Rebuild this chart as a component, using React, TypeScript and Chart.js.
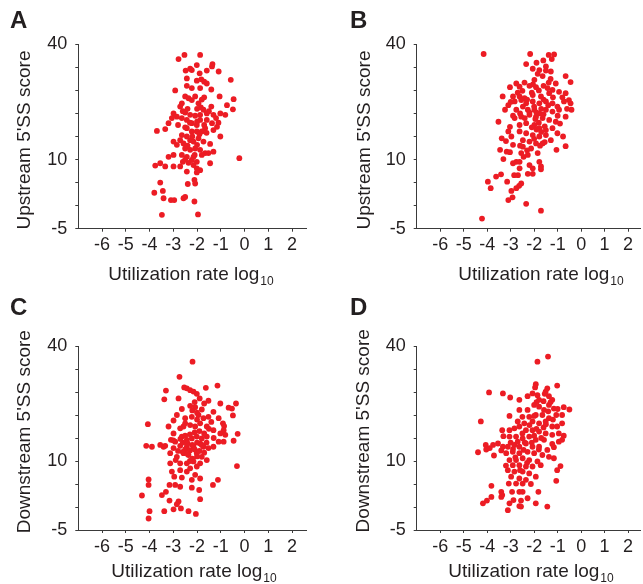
import React, { useEffect, useRef } from 'react';
import { Chart, registerables } from 'chart.js';

Chart.register(...registerables);

// ---------- data ----------
const xTickValues = [-6, -5, -4, -3, -2, -1, 0, 1, 2];
const yTickValues = [-5, 0, 5, 10, 15, 20, 25, 30, 35];
const yTickLabels = ['-5', '', '', '10', '', '', '', '', '40'];
const xTitleMain = 'Utilization rate log';
const xTitleSub = '10';
const panelLetters = ['A', 'B', 'C', 'D'];
const yTitles = ["Upstream 5'SS score", "Upstream 5'SS score", "Downstream 5'SS score", "Downstream 5'SS score"];

const pointsA: [number, number][] = [
  [-2.53,32.7],[-1.87,32.7],[-2.78,31.8],[-2.01,30.5],[-1.35,30.7],[-1.37,30.2],[-2.48,29.3],[-2.29,29.7],[-2.22,29.4],[-1.59,29.3],
  [-1.09,29.1],[-1.89,28.7],[-1.82,27.4],[-1.7,26.9],[-2.43,27.6],[-2.01,27.1],[-0.58,27.3],[-1.59,26.5],[-1.4,25.2],[-1.87,25.5],
  [-2.92,25.0],[-2.43,26.0],[-2.22,25.5],[-1.05,23.7],[-0.46,23.1],[-1.7,23.5],[-2.5,23.7],[-2.36,23.3],[-2.08,23.7],[-2.22,22.9],
  [-2.64,22.2],[-1.94,22.2],[-0.74,21.8],[-1.84,21.3],[-1.73,20.8],[-0.49,20.9],[-2.71,21.5],[-2.99,20.0],[-2.5,20.2],[-2.29,19.7],
  [-2.08,19.5],[-1.87,19.7],[-1.59,20.0],[-1.31,19.7],[-1.02,20.0],[-0.81,19.7],[-2.85,19.3],[-3.06,19.0],[-3.2,17.9],[-3.34,16.6],
  [-3.69,16.2],[-2.64,19.0],[-2.43,18.6],[-2.22,17.9],[-2.01,17.5],[-1.87,18.6],[-1.59,18.6],[-1.37,17.9],[-1.16,17.1],[-1.66,16.8],
  [-1.31,16.4],[-1.02,15.0],[-2.43,16.8],[-2.22,16.1],[-2.01,16.1],[-1.8,16.1],[-2.64,15.3],[-2.43,15.0],[-2.29,14.2],[-2.71,14.2],
  [-2.99,13.9],[-2.85,13.2],[-2.57,13.5],[-2.15,13.9],[-1.94,14.6],[-1.73,13.9],[-1.45,13.4],[-2.5,12.4],[-2.29,12.1],[-2.08,12.4],
  [-1.87,12.1],[-1.66,11.4],[-1.52,11.4],[-1.31,11.7],[-3.2,10.6],[-2.99,11.0],[-2.64,11.0],[-2.43,10.6],[-2.15,10.6],[-1.8,11.0],
  [-1.45,9.2],[-2.6,9.5],[-2.36,9.3],[-2.22,9.9],[-2.01,9.5],[-1.87,7.7],[-2.01,8.1],[-2.15,8.8],[-2.99,8.5],[-2.71,8.5],
  [-3.34,8.5],[-3.55,9.2],[-3.76,8.7],[-0.22,10.3],[-2.43,7.4],[-2.01,7.2],[-2.11,5.6],[-2.08,4.8],[-2.39,4.7],[-3.55,5.0],
  [-3.8,2.8],[-3.44,3.2],[-3.41,1.6],[-3.1,1.2],[-2.96,1.2],[-2.57,1.6],[-2.5,1.9],[-2.11,0.9],[-3.48,-2.0],[-1.96,-1.9],
  [-2.3,18.0],[-2.0,18.2],[-1.7,17.5],[-2.5,17.0],[-1.9,15.5],[-2.2,15.0],[-1.6,15.8],[-2.4,13.0],[-2.0,13.2],[-1.5,20.5],
  [-1.2,19.0],[-1.8,23.0],[-2.4,21.0],[-2.6,20.5],[-2.0,21.0],[-1.4,21.5],[-1.1,18.0],[-2.8,17.5],[-2.1,11.0],[-2.5,10.0],
];

const pointsB: [number, number][] = [
  [-4.15,32.9],[-2.17,32.9],[-1.38,32.7],[-1.15,32.8],[-1.61,31.5],[-2.34,30.7],[-1.5,30.2],[-2.06,29.7],[-1.78,29.4],[-1.85,28.6],
  [-1.29,29.1],[-1.64,28.1],[-1.99,27.3],[-2.41,26.7],[-2.76,26.5],[-0.66,28.1],[-0.45,26.8],[-1.38,26.7],[-1.08,26.5],[-2.62,25.8],
  [-3.03,25.7],[-2.2,26.0],[-1.92,25.7],[-1.43,25.5],[-1.22,25.1],[-0.94,24.7],[-0.66,24.4],[-3.34,23.7],[-2.9,23.7],[-2.62,23.7],
  [-2.41,23.3],[-2.06,24.0],[-1.71,23.7],[-1.36,24.4],[-0.52,22.9],[-0.45,22.2],[-0.73,22.6],[-2.55,22.9],[-2.34,22.2],[-2.06,22.6],
  [-1.78,22.2],[-1.5,22.6],[-1.22,22.2],[-1.01,21.5],[-2.83,22.6],[-3.1,21.8],[-3.24,20.8],[-2.76,20.8],[-2.48,21.5],[-2.27,20.8],
  [-1.99,20.8],[-1.78,20.0],[-1.5,20.8],[-1.22,20.4],[-0.94,20.8],[-0.41,20.8],[-0.66,19.3],[-3.52,18.2],[-2.83,19.0],[-2.55,19.3],
  [-2.2,19.7],[-1.92,19.3],[-1.64,19.0],[-1.36,18.6],[-1.08,18.2],[-3.03,17.1],[-2.62,17.5],[-2.34,17.9],[-1.99,17.5],[-1.78,16.8],
  [-1.5,16.4],[-1.22,16.8],[-1.01,15.7],[-0.77,15.0],[-0.66,12.9],[-1.05,12.1],[-3.1,16.1],[-2.62,16.1],[-2.34,15.7],[-2.06,15.3],
  [-1.78,15.0],[-1.5,15.3],[-1.29,14.2],[-3.38,14.6],[-2.97,15.0],[-2.48,14.2],[-2.2,13.9],[-1.92,13.5],[-1.64,13.5],[-2.9,13.2],
  [-2.48,12.8],[-2.13,12.4],[-1.85,11.4],[-3.45,12.1],[-3.17,11.7],[-3.03,11.6],[-3.31,10.1],[-2.55,11.4],[-2.45,10.6],[-2.27,11.0],
  [-2.76,9.5],[-2.9,9.2],[-2.62,9.5],[-2.2,8.8],[-1.78,9.5],[-1.71,8.5],[-2.06,8.1],[-1.71,7.9],[-2.62,8.1],[-2.85,6.6],
  [-2.69,6.6],[-2.27,6.9],[-2.06,6.9],[-3.62,6.3],[-3.41,6.8],[-3.97,5.2],[-3.85,3.8],[-3.15,5.2],[-2.55,4.8],[-2.64,4.3],
  [-2.76,3.8],[-2.97,3.2],[-2.92,1.8],[-3.1,1.2],[-2.34,0.4],[-1.71,-1.1],[-4.22,-2.8],
  [-2.0,21.5],[-1.9,20.2],[-1.7,21.0],[-1.6,19.8],[-1.95,18.8],[-1.8,18.0],[-2.1,17.0],[-1.7,16.0],[-1.9,16.5],[-2.2,20.2],
  [-2.3,23.0],[-1.6,23.0],[-2.1,24.5],[-1.8,25.0],[-1.55,17.2],[-2.0,14.5],[-1.75,13.0],[-2.4,19.0],[-1.4,21.8],[-1.2,23.5],
  [-0.8,23.5],[-0.6,21.0],[-1.0,19.5],[-0.9,17.8],[-2.6,20.0],[-2.9,19.5],[-3.0,22.5],[-2.7,24.5],[-2.5,24.9],[-1.3,27.5],
  [-1.6,26.0],[-2.05,26.3],[-1.5,29.3],[-1.9,31.0],[-1.25,31.8],[-1.55,13.8],[-2.3,12.0],[-2.6,13.0],[-3.2,14.0],
];

const pointsC: [number, number][] = [
  [-2.19,31.6],[-2.74,28.3],[-3.31,25.3],[-3.38,23.4],[-2.54,26.0],[-2.43,25.8],[-2.29,25.4],[-2.15,25.1],[-2.01,24.6],[-1.89,23.6],
  [-1.63,25.9],[-1.14,26.4],[-1.52,23.1],[-1.02,22.5],[-0.36,22.5],[-0.67,21.6],[-0.53,21.4],[-0.49,19.9],[-2.29,22.0],[-2.08,21.7],
  [-2.78,23.6],[-2.64,21.3],[-2.85,20.0],[-2.99,18.8],[-3.2,17.5],[-2.5,19.3],[-2.22,19.6],[-1.94,20.0],[-1.73,19.3],[-1.52,19.6],
  [-1.31,20.7],[-1.09,19.3],[-0.91,18.2],[-0.86,17.6],[-0.88,16.7],[-1.02,16.0],[-0.81,15.7],[-0.88,14.2],[-0.46,14.4],[-0.29,15.9],
  [-1.31,16.7],[-1.59,17.5],[-1.87,18.2],[-2.08,17.5],[-2.29,17.8],[-2.57,17.5],[-2.71,17.1],[-2.99,16.0],[-3.1,14.6],[-2.92,14.2],
  [-2.64,15.3],[-2.43,14.6],[-2.22,14.9],[-2.01,15.3],[-1.8,14.9],[-1.59,15.3],[-1.87,13.8],[-1.73,13.1],[-1.52,12.8],[-1.31,13.1],
  [-1.09,14.2],[-2.15,13.1],[-2.43,13.1],[-2.71,13.3],[-2.99,12.8],[-3.13,11.7],[-2.85,10.9],[-2.57,11.7],[-2.36,11.3],[-2.01,11.7],
  [-1.8,10.9],[-1.59,10.2],[-1.87,9.5],[-2.15,9.9],[-2.43,9.5],[-2.71,9.5],[-3.13,9.5],[-3.06,7.7],[-2.71,8.0],[-2.43,7.7],
  [-2.01,8.8],[-2.29,8.4],[-3.34,13.3],[-3.41,13.1],[-3.55,13.5],[-4.07,18.0],[-4.14,13.3],[-3.9,13.1],[-4.04,6.0],[-4.04,4.8],
  [-0.32,8.9],[-2.08,7.0],[-2.22,5.9],[-1.87,6.2],[-1.91,3.7],[-2.22,4.2],[-2.64,6.4],[-2.96,6.6],[-3.16,4.8],[-2.92,4.8],
  [-2.71,4.4],[-3.31,3.3],[-3.48,2.6],[-4.32,2.5],[-1.87,1.7],[-3.16,1.4],[-2.78,1.2],[-2.85,0.6],[-2.68,-0.3],[-2.99,-0.5],
  [-2.36,-0.9],[-2.05,-1.5],[-4.0,-0.9],[-4.04,-2.5],[-3.38,-0.9],[-1.12,5.9],[-1.33,4.8],
  [-2.6,14.0],[-2.4,13.8],[-2.2,13.5],[-2.0,14.0],[-1.8,13.5],[-2.5,12.5],[-2.3,12.3],[-2.1,12.5],[-1.9,12.2],[-2.7,14.8],
  [-2.5,15.5],[-2.3,15.8],[-2.1,16.2],[-1.9,16.5],[-1.7,16.0],[-2.6,12.0],[-2.0,11.0],[-2.2,10.5],[-1.7,11.8],[-1.6,14.0],
  [-2.8,12.2],[-2.4,11.5],[-1.5,17.0],[-1.4,18.5],[-2.0,19.0],[-2.2,21.0],[-2.1,22.8],[-1.8,21.2],[-2.5,18.2],[-2.0,20.5],
  [-1.7,22.5],[-1.3,15.0],[-3.0,14.5],[-2.9,10.2],[-2.3,10.0],
];

const pointsD: [number, number][] = [
  [-1.86,31.6],[-1.41,32.7],[-1.93,26.7],[-1.96,26.0],[-1.02,26.4],[-1.44,25.8],[-3.92,24.9],[-3.33,24.7],[-3.02,23.8],[-2.63,23.3],
  [-2.28,24.1],[-2.07,24.7],[-1.86,24.3],[-1.51,25.1],[-1.37,24.1],[-1.23,23.3],[-1.79,23.3],[-1.37,22.2],[-1.16,21.4],[-0.74,21.7],
  [-0.5,21.2],[-2.63,21.1],[-2.28,21.1],[-2.0,22.2],[-1.79,21.8],[-1.58,21.1],[-2.21,19.6],[-1.93,20.0],[-1.65,20.0],[-1.37,19.3],
  [-1.06,20.0],[-0.81,20.0],[-3.05,19.8],[-4.27,18.6],[-2.7,18.6],[-2.42,18.2],[-2.07,18.6],[-1.79,18.2],[-1.51,18.6],[-1.23,17.5],
  [-1.02,17.5],[-0.81,18.2],[-3.36,16.7],[-3.05,16.7],[-2.84,17.1],[-2.63,17.5],[-2.35,16.7],[-2.07,16.7],[-1.79,16.4],[-1.51,16.0],
  [-1.23,15.7],[-0.95,16.0],[-0.74,15.5],[-0.81,14.6],[-3.31,15.4],[-3.05,15.3],[-2.77,15.3],[-2.49,14.9],[-2.21,15.3],[-1.93,14.6],
  [-1.58,14.6],[-1.23,13.7],[-0.95,14.2],[-3.54,13.8],[-3.75,13.5],[-4.06,13.5],[-4.04,12.5],[-4.39,11.9],[-3.89,12.8],[-3.33,13.1],
  [-3.12,13.1],[-2.84,13.5],[-2.63,13.1],[-2.35,13.8],[-2.07,13.1],[-1.79,13.1],[-1.44,12.4],[-1.16,13.0],[-3.71,11.2],[-3.19,11.7],
  [-2.91,12.0],[-2.63,11.7],[-2.28,12.0],[-2.0,11.7],[-1.65,11.3],[-1.37,10.9],[-1.16,10.6],[-3.05,10.2],[-2.77,10.2],[-2.49,10.6],
  [-2.21,10.2],[-1.86,9.9],[-2.91,9.1],[-2.63,9.1],[-2.35,8.8],[-2.07,8.8],[-1.72,9.1],[-0.88,8.9],[-1.02,8.0],[-3.12,8.0],
  [-2.84,7.7],[-2.49,7.7],[-2.21,7.3],[-1.93,6.6],[-2.98,6.6],[-2.63,6.2],[-2.35,5.9],[-1.06,5.7],[-3.08,5.1],[-2.77,5.1],
  [-2.49,5.1],[-2.14,5.0],[-3.82,4.6],[-3.4,3.3],[-3.36,2.6],[-2.94,3.3],[-2.63,3.3],[-2.49,3.3],[-1.82,3.3],[-2.28,1.9],
  [-2.56,1.4],[-2.88,1.5],[-3.05,0.8],[-2.63,0.2],[-2.56,0.1],[-1.93,0.8],[-1.44,0.1],[-3.12,-0.7],[-4.18,0.8],[-4.01,1.4],
  [-3.82,2.2],[-3.4,2.2],
  [-2.5,16.0],[-2.2,17.8],[-1.9,17.0],[-1.6,17.3],[-1.4,20.8],[-1.3,22.8],[-1.6,23.0],[-1.55,24.6],[-2.4,14.0],[-2.7,14.2],
  [-3.0,14.0],[-2.9,12.6],[-2.45,12.4],[-2.1,14.0],[-1.8,12.5],[-2.3,9.6],[-2.6,8.0],[-3.2,9.0],[-2.0,15.5],[-1.7,15.0],
  [-1.2,19.0],[-1.0,21.3],[-2.5,19.6],[-2.8,10.8],[-3.4,12.3],[-1.5,18.0],[-2.0,19.8],[-1.9,22.8],
];

const panelPoints = [pointsA, pointsB, pointsC, pointsD];

// ---------- styling / layout ----------
const FONT = '"Liberation Sans", Arial, Helvetica, sans-serif';
const RED = '#ec1c24';
const AXIS = '#3a3a3a';
const TEXT = '#231f20';

type Geo = {
  left: number; top: number; w: number; h: number;
  padLeft: number; padRight: number; padTop: number; yW: number; xH: number; xMax: number;
  letterX: number; letterY: number; yTitleX: number; yTitleY: number; xTitleCX: number; xTitleBase: number;
};

const geos: Geo[] = [
  { left: 0, top: 0, w: 320, h: 290, padLeft: 0, padRight: 13.7, padTop: 44.3, yW: 78.3, xH: 61.3, xMax: 2.6,
    letterX: 10, letterY: 28, yTitleX: 25, yTitleY: 140, xTitleCX: 191, xTitleBase: 280 },
  { left: 320, top: 0, w: 323, h: 290, padLeft: 18.4, padRight: 0, padTop: 44.3, yW: 78.3, xH: 61.3, xMax: 2.51,
    letterX: 30, letterY: 28, yTitleX: 44.5, yTitleY: 140, xTitleCX: 221, xTitleBase: 280 },
  { left: 0, top: 290, w: 320, h: 294, padLeft: 0, padRight: 13.7, padTop: 56, yW: 78.3, xH: 54, xMax: 2.6,
    letterX: 10, letterY: 25, yTitleX: 24.5, yTitleY: 141.7, xTitleCX: 194, xTitleBase: 286.5 },
  { left: 320, top: 290, w: 323, h: 294, padLeft: 18.4, padRight: 0, padTop: 56, yW: 78.3, xH: 54, xMax: 2.51,
    letterX: 30, letterY: 25, yTitleX: 44.2, yTitleY: 140.8, xTitleCX: 211, xTitleBase: 286.5 },
];

function makeTextPlugin(g: Geo, letter: string, yTitle: string) {
  return {
    id: 'panelText',
    afterDraw(chart: any) {
      const ctx: CanvasRenderingContext2D = chart.ctx;
      ctx.save();
      ctx.fillStyle = TEXT;
      ctx.font = `bold 24px ${FONT}`;
      ctx.textAlign = 'left';
      ctx.textBaseline = 'alphabetic';
      ctx.fillText(letter, g.letterX, g.letterY);

      ctx.save();
      ctx.font = `19px ${FONT}`;
      ctx.translate(g.yTitleX, g.yTitleY);
      ctx.rotate(-Math.PI / 2);
      ctx.textAlign = 'center';
      ctx.textBaseline = 'middle';
      ctx.fillText(yTitle, 0, 0);
      ctx.restore();

      ctx.font = `19px ${FONT}`;
      const w1 = ctx.measureText(xTitleMain).width;
      ctx.font = `12px ${FONT}`;
      const w2 = ctx.measureText(xTitleSub).width;
      const start = g.xTitleCX - (w1 + w2 + 1) / 2;
      ctx.textAlign = 'left';
      ctx.textBaseline = 'alphabetic';
      ctx.font = `19px ${FONT}`;
      ctx.fillText(xTitleMain, start, g.xTitleBase);
      ctx.font = `12px ${FONT}`;
      ctx.fillText(xTitleSub, start + w1 + 1, g.xTitleBase + 5);
      ctx.restore();
    },
  };
}

function Panel({ index }: { index: number }) {
  const ref = useRef<HTMLCanvasElement>(null);
  const g = geos[index];
  useEffect(() => {
    if (!ref.current) return;
    const chart = new Chart(ref.current, {
      type: 'scatter',
      data: {
        datasets: [
          {
            data: panelPoints[index].map(([x, y]) => ({ x, y })),
            backgroundColor: RED,
            borderWidth: 0,
            pointRadius: 2.9,
            pointHoverRadius: 2.9,
          },
        ],
      },
      options: {
        animation: false,
        responsive: false,
        events: [],
        layout: { padding: { left: g.padLeft, right: g.padRight, top: g.padTop, bottom: 0 } },
        plugins: { legend: { display: false }, tooltip: { enabled: false }, title: { display: false } },
        scales: {
          x: {
            type: 'linear',
            min: -7,
            max: g.xMax,
            afterBuildTicks: (s: any) => { s.ticks = xTickValues.map((v) => ({ value: v })); },
            afterFit: (s: any) => { s.height = g.xH; },
            grid: { drawOnChartArea: false, drawTicks: true, tickLength: 3, color: AXIS, lineWidth: 1 },
            border: { display: true, color: AXIS, width: 1 },
            ticks: {
              autoSkip: false, maxRotation: 0, minRotation: 0, padding: 3, color: TEXT,
              font: { family: FONT, size: 18 },
              callback: (_v: any, i: number) => String(xTickValues[i]),
            },
          },
          y: {
            type: 'linear',
            min: -5,
            max: 35,
            afterBuildTicks: (s: any) => { s.ticks = yTickValues.map((v) => ({ value: v })); },
            afterFit: (s: any) => { s.width = g.yW; },
            grid: { drawOnChartArea: false, drawTicks: true, tickLength: 3, color: AXIS, lineWidth: 1 },
            border: { display: true, color: AXIS, width: 1 },
            ticks: {
              autoSkip: false, padding: 8, color: TEXT,
              font: { family: FONT, size: 18 },
              callback: (_v: any, i: number) => yTickLabels[i],
            },
          },
        },
      },
      plugins: [makeTextPlugin(g, panelLetters[index], yTitles[index])],
    } as any);
    return () => chart.destroy();
  }, [index]);
  return (
    <canvas
      ref={ref}
      width={g.w}
      height={g.h}
      style={{ position: 'absolute', left: g.left, top: g.top, width: g.w, height: g.h }}
    />
  );
}

export default function App() {
  return (
    <div style={{ position: 'absolute', left: 0, top: 0, width: 643, height: 584, overflow: 'hidden', background: '#fff' }}>
      {[0, 1, 2, 3].map((i) => (
        <Panel key={i} index={i} />
      ))}
    </div>
  );
}
